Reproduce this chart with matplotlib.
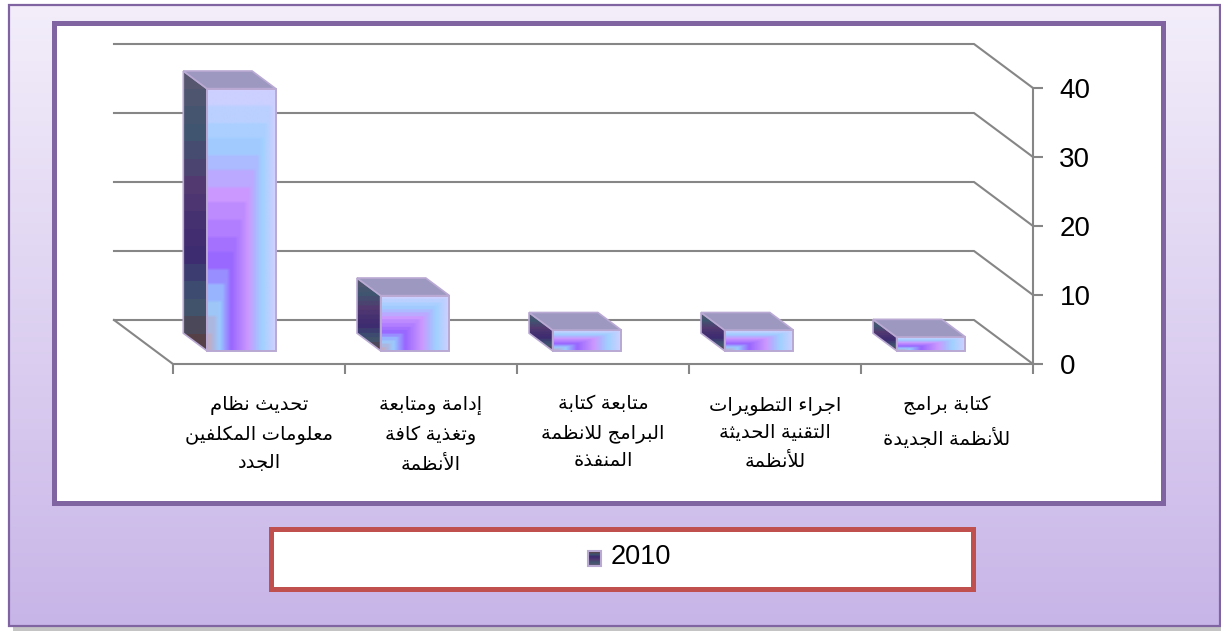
import unicodedata
import matplotlib
matplotlib.use('Agg')
import matplotlib.pyplot as plt
import numpy as np
from matplotlib.colors import LinearSegmentedColormap
from matplotlib.patches import Polygon, Rectangle

categories = [
    ['تحديث نظام', 'معلومات المكلفين', 'الجدد'],
    ['إدامة ومتابعة', 'وتغذية كافة', 'الأنظمة'],
    ['متابعة كتابة', 'البرامج للانظمة', 'المنفذة'],
    ['اجراء التطويرات', 'التقنية الحديثة', 'للأنظمة'],
    ['كتابة برامج', 'للأنظمة الجديدة'],
]
values_2010 = [38, 8, 3, 3, 2]
y_ticks = [0, 10, 20, 30, 40]
series_name = '2010'

plt.rcParams['font.family'] = ['Liberation Sans', 'DejaVu Sans']

W, H = 1221, 632
GRID = '#868686'
PURPLE = '#8064A2'
RED = '#C0504D'
EDGE = '#B9A9D3'
# shift of the 3d depth, in data units (x categories, y values)
DX, DY = 59 / 172, 44 / 6.9


# matplotlib does no arabic shaping, so pick presentation forms by hand
forms = {}
ligatures = {}
for code in range(0xFE70, 0xFEFD):
    parts = unicodedata.decomposition(chr(code)).split()
    if len(parts) == 2:
        forms.setdefault(chr(int(parts[1], 16)), {})[parts[0]] = chr(code)
    elif len(parts) == 3 and parts[1] == '0644':
        ligatures.setdefault(chr(int(parts[2], 16)), {})[parts[0]] = chr(code)


def shape(text):
    out = []
    i = 0
    prev_joins = False
    while i < len(text):
        c = text[i]
        if c not in forms:
            out.append(c)
            prev_joins = False
            i += 1
            continue
        if c == 'ل' and i + 1 < len(text) and text[i + 1] in ligatures:
            f = ligatures[text[i + 1]]
            out.append(f['<final>'] if prev_joins else f['<isolated>'])
            prev_joins = False
            i += 2
            continue
        nxt = text[i + 1] if i + 1 < len(text) else ' '
        joins_next = '<initial>' in forms[c] and nxt in forms
        if prev_joins and joins_next:
            key = '<medial>'
        elif prev_joins:
            key = '<final>'
        elif joins_next:
            key = '<initial>'
        else:
            key = '<isolated>'
        out.append(forms[c].get(key, c))
        prev_joins = joins_next
        i += 1
    return ''.join(out)[::-1]


front_cmap = LinearSegmentedColormap.from_list('front', [
    (0.0, '#C9A9B8'), (0.08, '#B0B4DC'), (0.18, '#99CCFF'), (0.35, '#9966FF'),
    (0.6, '#CC99FF'), (0.7, '#B0B4FF'), (0.8, '#9FD0FF'), (1.0, '#D2D0FF')])
side_cmap = LinearSegmentedColormap.from_list('side', [
    (0.0, '#564048'), (0.15, '#3F5670'), (0.35, '#3D2A70'),
    (0.6, '#523A70'), (0.8, '#3F5570'), (1.0, '#56566F')])

fig = plt.figure(figsize=(W / 100, H / 100), dpi=100, facecolor='white')

# page background, frames and legend box, laid out in pixels
bg = fig.add_axes([0, 0, 1, 1])
bg.set_xlim(0, W)
bg.set_ylim(H, 0)
bg.axis('off')
bg.add_patch(Rectangle((13, 10), 1208, 621, fc='#C4C4C4', ec='none', zorder=0))
grad = np.linspace(0, 1, 256)[:, None]
bg_cmap = LinearSegmentedColormap.from_list('bg', ['#F3EEFA', '#C8B5E8'])
bg.imshow(grad, extent=(9, 1220, 626, 5), cmap=bg_cmap, aspect='auto', zorder=1)
bg.add_patch(Rectangle((9, 5), 1211, 621, fc='none', ec=PURPLE, lw=1.6, zorder=2))
bg.add_patch(Rectangle((54, 23), 1109, 480, fc='white', ec=PURPLE, lw=3.6, zorder=2))
bg.add_patch(Rectangle((271, 529), 702, 60, fc='white', ec=RED, lw=3.6, zorder=2))
bg.imshow(np.linspace(0, 1, 32)[:, None], extent=(589, 600, 565, 552), cmap=side_cmap,
          aspect='auto', zorder=3)
bg.add_patch(Rectangle((588, 551), 13, 15, fc='none', ec=EDGE, lw=1.5, zorder=3))
bg.text(611, 557.5, series_name, fontsize=19.5, va='center', ha='left', color='black', zorder=3)
bg.set_xlim(0, W)
bg.set_ylim(H, 0)

# the axes is the front plane of the 3d box
ax = fig.add_axes([173 / W, (H - 364) / H, 860 / W, 276 / H])
ax.patch.set_visible(False)

for v in y_ticks:
    ax.plot([5, 5 - DX, 0 - DX], [v, v + DY, v + DY], color=GRID, lw=1.5,
            clip_on=False, zorder=1, solid_joinstyle='miter')
ax.plot([0, -DX], [0, DY], color=GRID, lw=1.5, clip_on=False, zorder=1)

for i, v in enumerate(values_2010):
    x0, x1 = i + 0.3 + 0.01 * (i > 0), i + 0.7 + 0.01 * (i > 0)
    d0, d1 = 0.3, 0.7
    left, right = x0 - d0 * DX, x1 - d0 * DX
    back_left, back_right = x0 - d1 * DX, x1 - d1 * DX
    bottom, top = d0 * DY, v + d0 * DY
    back_bottom, back_top = d1 * DY, v + d1 * DY

    # front face: stepped gradient out of the lower left corner
    u = np.linspace(0, 1, 90)
    h = (np.floor(np.linspace(0, 1, 90) * 16) + 0.5) / 16
    front = np.maximum(u[None, :], h[:, None])
    ax.imshow(front, extent=(left, right, bottom, top), origin='lower', cmap=front_cmap,
              vmin=0, vmax=1, aspect='auto', interpolation='bilinear', zorder=3)
    ax.add_patch(Rectangle((left, bottom), right - left, top - bottom, fc='none', ec=EDGE,
                           lw=1.4, zorder=4, clip_on=False))

    # side face
    side_pts = [(left, bottom), (left, top), (back_left, back_top), (back_left, back_bottom)]
    side_poly = Polygon(side_pts, fc='none', ec=EDGE, lw=1.2, zorder=4, clip_on=False)
    ax.add_patch(side_poly)
    side = np.floor(np.linspace(0, 1, 64) * 16)[:, None] / 15
    im = ax.imshow(side, extent=(back_left, left, bottom, back_top), origin='lower',
                   cmap=side_cmap, vmin=0, vmax=1, aspect='auto', zorder=3)
    im.set_clip_box(fig.bbox)
    im.set_clip_path(Polygon(side_pts, transform=ax.transData))

    # top face
    ax.add_patch(Polygon([(left, top), (right, top), (back_right, back_top), (back_left, back_top)],
                         fc='#9C98C0', ec=EDGE, lw=1.2, zorder=4, clip_on=False))

ax.set_xlim(0, 5)
ax.set_ylim(0, 40)

ax.spines['left'].set_visible(False)
ax.spines['top'].set_visible(False)
for side_name in ['bottom', 'right']:
    ax.spines[side_name].set_color(GRID)
    ax.spines[side_name].set_linewidth(1.5)
ax.yaxis.tick_right()
ax.set_yticks(y_ticks)
ax.tick_params(axis='y', color=GRID, width=1.5, length=7, pad=12, labelsize=20)
ax.set_xticks(range(6))
ax.set_xticklabels([])
ax.tick_params(axis='x', which='major', color=GRID, width=1.5, length=7)
ax.set_xticks(np.arange(5) + 0.5, minor=True)
ax.set_xticklabels(['\n'.join(shape(line) for line in lines) for lines in categories],
                   minor=True, fontsize=14, linespacing=1.78, va='top')
ax.tick_params(axis='x', which='minor', length=0, pad=23)

fig.savefig('out.png', dpi=100)
